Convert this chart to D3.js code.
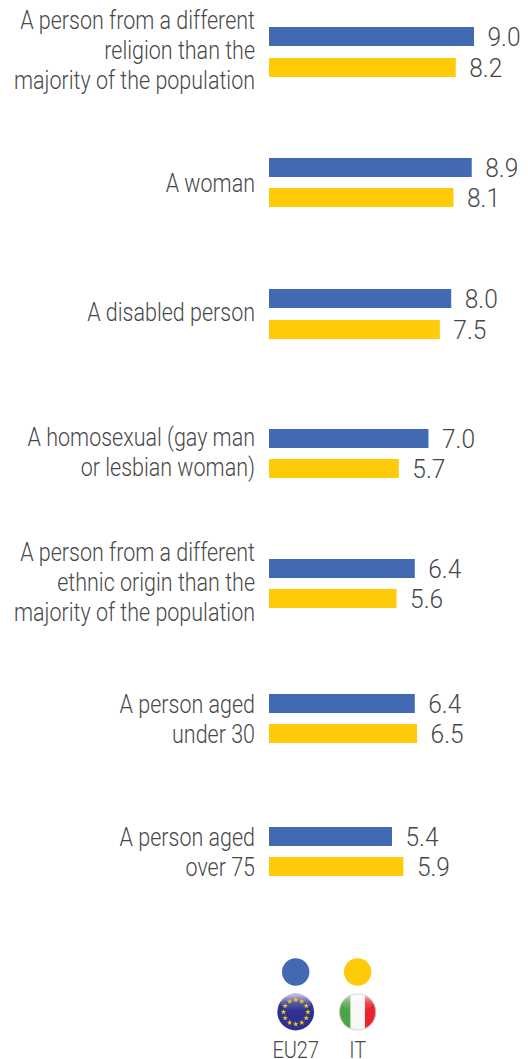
<!DOCTYPE html>
<html><head><meta charset="utf-8">
<script src="https://cdn.jsdelivr.net/npm/d3@7"></script>
<style>html,body{margin:0;padding:0;background:#fff}svg{display:block}
text{font-family:Roboto,"Liberation Sans",sans-serif;font-weight:300;fill:#48484a;font-size:25px}</style>
</head><body><svg id="c" width="528" height="1059"></svg>
<script>
const categories = [
  ["A person from a different","religion than the","majority of the population"],
  ["A woman"],
  ["A disabled person"],
  ["A homosexual (gay man","or lesbian woman)"],
  ["A person from a different","ethnic origin than the","majority of the population"],
  ["A person aged","under 30"],
  ["A person aged","over 75"]
];
const eu27 = [9.0,8.9,8.0,7.0,6.4,6.4,5.4];
const it = [8.2,8.1,7.5,5.7,5.6,6.5,5.9];
const seriesNames = ["EU27","IT"];
const seriesColors = ["#416ab3","#ffcb08"];

// layout (not data)
const rowTops = [27,158,289,429,559,694,827];
const yellowOffset = [31,30,31,30,30,30,30];
const labelCenters = [50,183,312,451.5,582,719,852];
const barH = 19, lineH = 30;
const x = d3.scaleLinear().domain([0,9]).range([269,474]);
const yRow = d3.scaleOrdinal().domain(d3.range(7)).range(rowTops);
const svg = d3.select("#c");

function narrow(sel, f){ // condense text horizontally about its anchor
  sel.attr("transform", function(){ const X=+this.getAttribute("data-x"), Y=+this.getAttribute("data-y");
    return `translate(${X},${Y}) scale(${f},1)`; });
}
const rows = svg.selectAll("g.row").data(categories).join("g").attr("class","row");
rows.append("rect").attr("x",x(0)).attr("y",(d,i)=>yRow(i)).attr("height",barH)
  .attr("width",(d,i)=>x(eu27[i])-x(0)).attr("fill",seriesColors[0]);
rows.append("rect").attr("x",x(0)).attr("y",(d,i)=>yRow(i)+yellowOffset[i]).attr("height",barH)
  .attr("width",(d,i)=>x(it[i])-x(0)).attr("fill",seriesColors[1]);
const f=0.86, fv=0.98;
rows.append("text").text((d,i)=>eu27[i].toFixed(1)).attr("data-x",(d,i)=>x(eu27[i])+13.5).attr("data-y",(d,i)=>yRow(i)+19).call(narrow,fv);
rows.append("text").text((d,i)=>it[i].toFixed(1)).attr("data-x",(d,i)=>x(it[i])+13.5).attr("data-y",(d,i)=>yRow(i)+yellowOffset[i]+19).call(narrow,fv);
rows.each(function(d,i){
  const g=d3.select(this);
  g.selectAll("text.l").data(d).join("text").attr("class","l").text(t=>t)
   .attr("text-anchor","end").attr("data-x",255)
   .attr("data-y",(t,j)=>labelCenters[i]+(j-(d.length-1)/2)*lineH+9).call(narrow,f);
});

// legend
const defs=svg.append("defs");
const legendX=[295.7,357.6];
const lg=svg.append("g");
lg.selectAll("circle.k").data(seriesNames).join("circle").attr("class","k")
  .attr("cx",(d,i)=>legendX[i]).attr("cy",972).attr("r",13.7).attr("fill",(d,i)=>seriesColors[i]);
lg.selectAll("text.n").data(seriesNames).join("text").attr("class","n").text(d=>d)
  .attr("text-anchor","middle").attr("data-x",(d,i)=>legendX[i]).attr("data-y",1058).style("font-size","24px").call(narrow,0.83);

// badges
const cy=1012,r=18.4;
defs.append("clipPath").attr("id","cit").append("circle").attr("cx",legendX[1]).attr("cy",cy).attr("r",r);
const sh=defs.append("linearGradient").attr("id","gl").attr("x1",0).attr("x2",0).attr("y1",0).attr("y2",1);
sh.append("stop").attr("offset",0).attr("stop-color","#fff").attr("stop-opacity",.75);
sh.append("stop").attr("offset",.5).attr("stop-color","#fff").attr("stop-opacity",.2);
sh.append("stop").attr("offset",1).attr("stop-color","#fff").attr("stop-opacity",0);
const euG=defs.append("radialGradient").attr("id","eu").attr("cx",.5).attr("cy",.6).attr("r",.6);
euG.append("stop").attr("offset",0).attr("stop-color","#2e318f");
euG.append("stop").attr("offset",.75).attr("stop-color","#2e318f");
euG.append("stop").attr("offset",1).attr("stop-color","#3a3f97");
lg.append("circle").attr("cx",legendX[0]).attr("cy",cy).attr("r",r).attr("fill","url(#eu)");
lg.append("ellipse").attr("cx",legendX[0]).attr("cy",cy-9.5).attr("rx",15.5).attr("ry",9).attr("fill","url(#gl)");
const star=d3.symbol().type(d3.symbolStar).size(10);
lg.selectAll("path.s").data(d3.range(12)).join("path").attr("class","s").attr("d",star).attr("fill","#f5c518")
  .attr("transform",d=>{const a=d/12*2*Math.PI;return `translate(${legendX[0]+12.2*Math.sin(a)},${cy-12.2*Math.cos(a)})`});
const itG=lg.append("g").attr("clip-path","url(#cit)");
const bandsIT=["#4aa345","#f7f7f7","#e8232a"];
const bandEdges=[0,.31,.70,1];
const xf=d3.scaleLinear().domain([0,1]).range([legendX[1]-r,legendX[1]+r]);
itG.selectAll("rect").data(bandsIT).join("rect").attr("x",(d,i)=>xf(bandEdges[i])).attr("y",cy-r).attr("width",(d,i)=>xf(bandEdges[i+1])-xf(bandEdges[i])).attr("height",2*r).attr("fill",d=>d);
itG.append("ellipse").attr("cx",legendX[1]).attr("cy",cy-9.5).attr("rx",15.5).attr("ry",9).attr("fill","url(#gl)");
lg.append("circle").attr("cx",legendX[1]).attr("cy",cy).attr("r",r-.4).attr("fill","none").attr("stroke","#ccc").attr("stroke-width",.8);
</script></body></html>
